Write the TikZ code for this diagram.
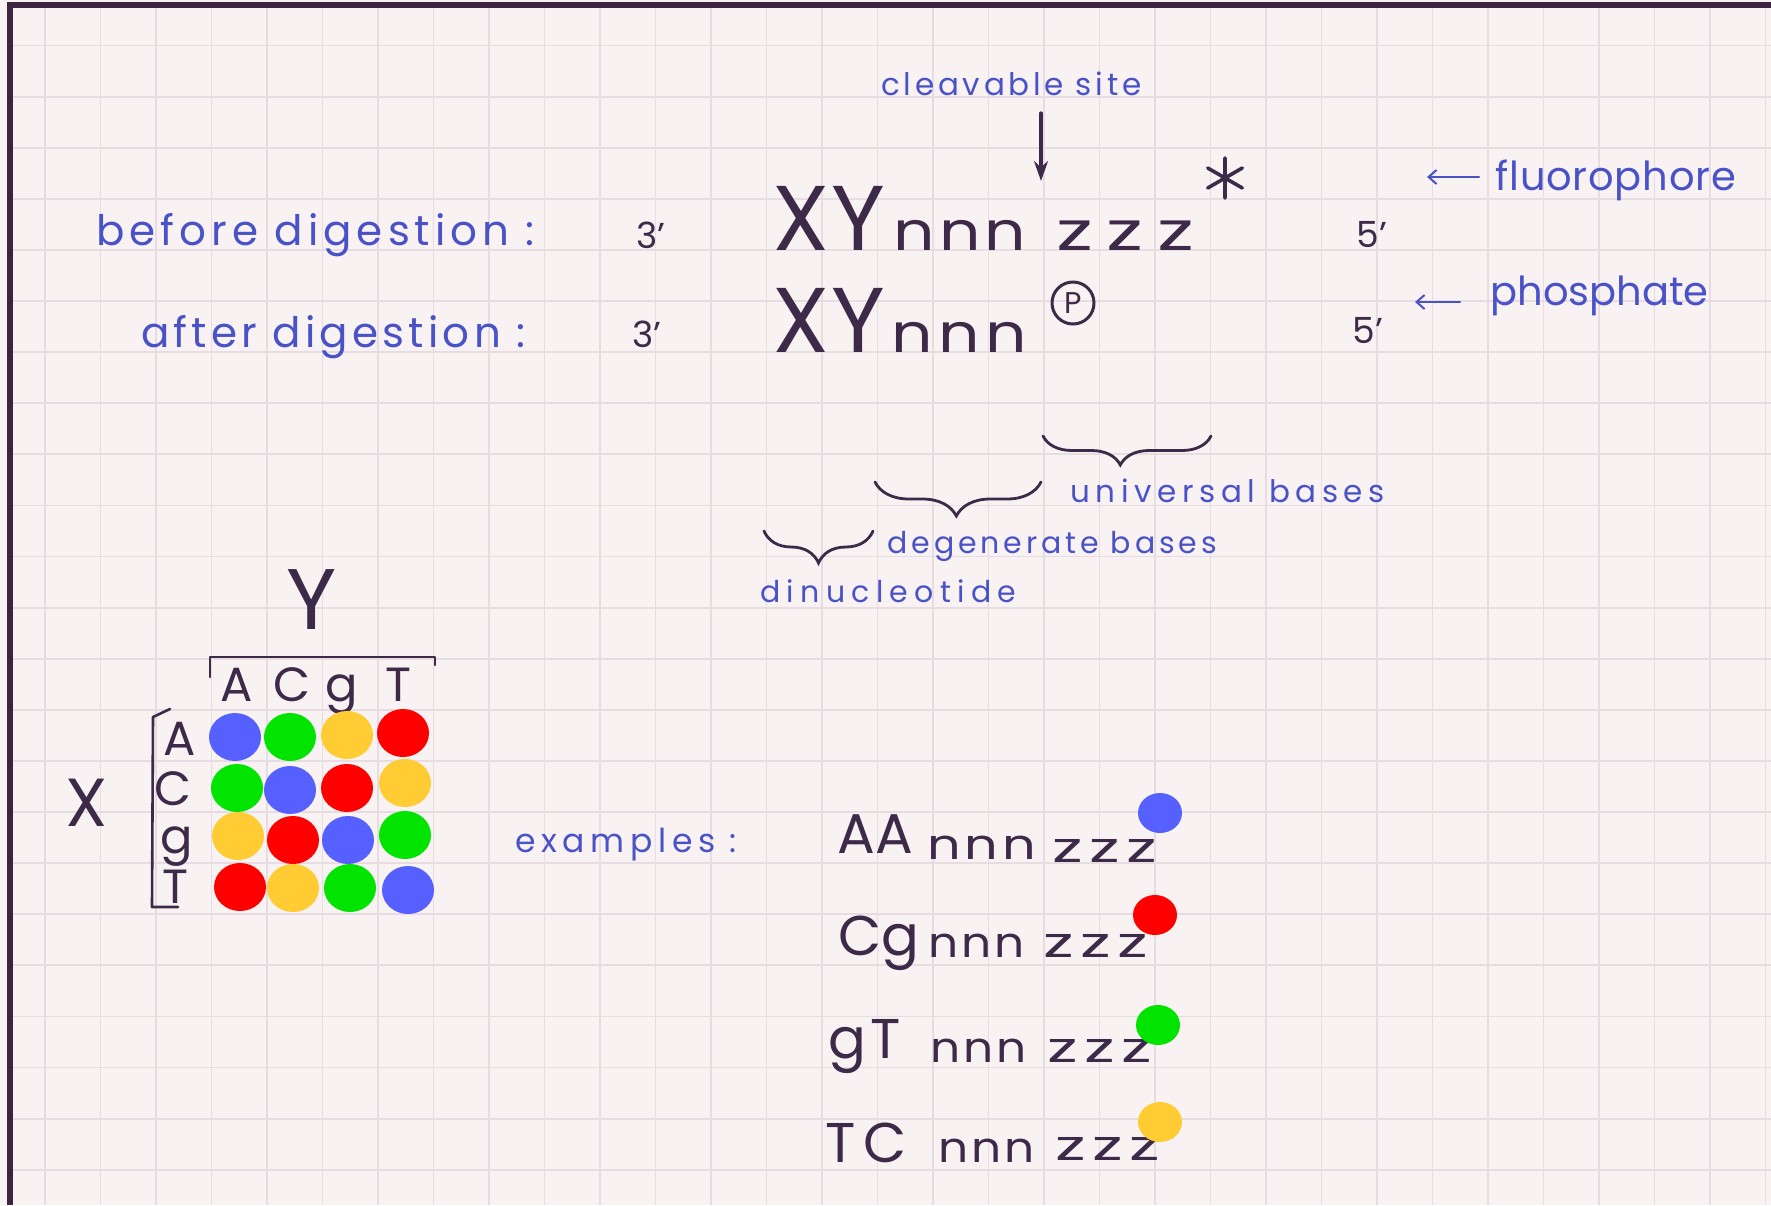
\documentclass[tikz,border=0pt]{standalone}
\usepackage{fontspec}
\setmainfont{Poppins}
\usetikzlibrary{arrows.meta,decorations.pathreplacing}
\definecolor{paper}{HTML}{F8F2F3}
\definecolor{gridc}{HTML}{E8DCE3}
\definecolor{framec}{HTML}{3D2542}
\definecolor{blueink}{HTML}{4A52C8}
\definecolor{darkink}{HTML}{3C2A48}
\definecolor{dotblue}{HTML}{5560FF}
\definecolor{dotgreen}{HTML}{00E400}
\definecolor{dotyellow}{HTML}{FFCC33}
\definecolor{dotred}{HTML}{FF0000}
\newcommand\HandFont[2]{\fontsize{#1pt}{#1pt}\selectfont\addfontfeature{LetterSpace=#2}}
\newcommand\WideFont[3]{\fontsize{#1pt}{#1pt}\selectfont\addfontfeature{LetterSpace=#2,FakeStretch=#3}}
\tikzset{
  bluetxt/.style={text=blueink, anchor=base west, inner sep=0pt},
  darktxt/.style={text=darkink, anchor=base west, inner sep=0pt},
  darkc/.style={text=darkink, anchor=base, inner sep=0pt},
  gridline/.style={draw=gridc, line width=0.9pt},
  inkline/.style={draw=darkink, line width=1.3pt, line cap=round, line join=round},
  bluearrow/.style={draw=blueink, line width=1pt, line cap=round, -{Straight Barb[length=4pt,width=7pt]}},
  bracestyle/.style={draw=darkink, line width=1.4pt, line cap=round, decorate, decoration={brace, mirror, amplitude=#1}},
  mdot/.style={fill=#1},
}
\begin{document}
\begin{tikzpicture}[x=0.5pt, y=-0.5pt]
\useasboundingbox (0,0) rectangle (1771,1205);
\fill[paper] (0,0) rectangle (1771,1205);
% graph paper
\foreach \j in {0,...,22} \draw[gridline] (12,{45.5+51.1*\j}) -- (1771,{45.5+51.1*\j});
\foreach \i in {0,...,31} \draw[gridline] ({45+55.5*\i},8) -- ({45+55.5*\i},1205);
% frame
\draw[draw=framec, line width=3pt] (10,1205) -- (10,5) -- (1771,5);

% ---- labels left
\node[bluetxt, font=\HandFont{21}{12}] (before) at (96,245) {before digestion :};
\node[bluetxt, font=\HandFont{21}{10}] (after) at (141,347) {after digestion :};

% ---- 3' and 5'
\node[darktxt, font=\HandFont{18}{0}] (b3) at (636,248) {3’};
\node[darktxt, font=\HandFont{18}{0}] (a3) at (632,347) {3’};
\node[darktxt, font=\HandFont{18}{0}] (b5) at (1356,247) {5’};
\node[darktxt, font=\HandFont{18}{0}] (a5) at (1352,343) {5’};

% ---- sequences
\node[darktxt, font=\HandFont{46}{2}] (bXY) at (772,250) {XY};
\node[darktxt, font=\WideFont{27}{8}{1.2}] (bn) at (893,250) {nnn};
\node[darktxt, font=\WideFont{27}{25}{1.5}] (bz) at (1056,250) {zzz};
\node[darktxt, font=\HandFont{46}{2}] (aXY) at (772,352) {XY};
\node[darktxt, font=\WideFont{27}{10}{1.2}] (an) at (891,352) {nnn};
\node[circle, draw=darkink, line width=1.5pt, minimum size=21pt, inner sep=0pt,
      text=darkink, font=\HandFont{15}{0}] (P) at (1073,303) {P};
% asterisk (fluorophore)
\coordinate (star) at (1225,178);
\draw[inkline, line width=1.8pt] ([shift={(0,-20)}]star) -- ([shift={(0,20)}]star)
  ([shift={(-17.3,-10)}]star) -- ([shift={(17.3,10)}]star)
  ([shift={(-17.3,10)}]star) -- ([shift={(17.3,-10)}]star);

% ---- cleavable site
\node[bluetxt, font=\HandFont{15.5}{12}] (cleave) at (881,95) {cleavable site};
\coordinate (cut) at (1041,181);
\draw[inkline, line width=1.6pt, -{Stealth[length=10pt,width=7pt]}, shorten <=9pt] (cleave.base -| cut) -- (cut);

% ---- fluorophore / phosphate
\node[bluetxt, font=\HandFont{20}{2}] (fluo) at (1495,190) {fluorophore};
\coordinate (fluotip) at (1427,177);
\draw[bluearrow, shorten <=8pt] (fluo.west |- fluotip) -- (fluotip);
\node[bluetxt, font=\HandFont{20}{0}] (phos) at (1490,305) {phosphate};
\coordinate (phostip) at (1415,302);
\draw[bluearrow, shorten <=15pt] (phos.west |- phostip) -- (phostip);

% ---- braces
\coordinate (u1) at (1043,436); \coordinate (u2) at (1211,436);
\draw[bracestyle=14.5pt, decoration={aspect=0.46}] (u1) -- (u2);
\coordinate (d1) at (875,482); \coordinate (d2) at (1041,482);
\draw[bracestyle=17pt, decoration={aspect=0.49}] (d1) -- (d2);
\coordinate (n1) at (764,531); \coordinate (n2) at (873,531);
\draw[bracestyle=16pt, decoration={aspect=0.5}] (n1) -- (n2);
\node[bluetxt, font=\HandFont{15.5}{18}] (univ) at (1070,502) {universal bases};
\node[bluetxt, font=\HandFont{15}{13}] (degen) at (887,553) {degenerate bases};
\node[bluetxt, font=\HandFont{15}{21}] (dinuc) at (760,602) {dinucleotide};

% ---- matrix
\node[text=darkink, inner sep=0pt, font=\HandFont{43}{0}] (Ylab) at (312,600) {Y};
\node[text=darkink, inner sep=0pt, font=\HandFont{34}{0}] (Xlab) at (87,803) {X};
\draw[inkline] (210,677) -- (210,657) -- (435,657) -- (435,665);
\draw[inkline] (170,709) -- (153,717) -- (152,907) -- (178,907);
\node[darkc, font=\HandFont{24}{0}] (cA) at (237,701) {A};
\node[darkc, font=\HandFont{24}{0}] (cC) at (292,701) {C};
\node[darkc, font=\HandFont{24}{0}] (cG) at (342,701) {g};
\node[darkc, font=\HandFont{24}{0}] (cT) at (398,701) {T};
\node[darkc, font=\HandFont{24}{0}] (rA) at (180,755) {A};
\node[darkc, font=\HandFont{24}{0}] (rC) at (173,805) {C};
\node[darkc, font=\HandFont{24}{0}] (rG) at (177,853) {g};
\node[darkc, font=\HandFont{24}{0}] (rT) at (175,903) {T};
% dots
\fill[mdot=dotblue]   (235,737) ellipse [x radius=13pt, y radius=12pt];
\fill[mdot=dotgreen]  (290,737) ellipse [x radius=13pt, y radius=12pt];
\fill[mdot=dotyellow] (347,735) ellipse [x radius=13pt, y radius=12pt];
\fill[mdot=dotred]    (403,733) ellipse [x radius=13pt, y radius=12pt];
\fill[mdot=dotgreen]  (237,788) ellipse [x radius=13pt, y radius=12pt];
\fill[mdot=dotblue]   (290,790) ellipse [x radius=13pt, y radius=12pt];
\fill[mdot=dotred]    (347,788) ellipse [x radius=13pt, y radius=12pt];
\fill[mdot=dotyellow] (405,783) ellipse [x radius=13pt, y radius=12pt];
\fill[mdot=dotyellow] (238,836) ellipse [x radius=13pt, y radius=12pt];
\fill[mdot=dotred]    (293,840) ellipse [x radius=13pt, y radius=12pt];
\fill[mdot=dotblue]   (348,840) ellipse [x radius=13pt, y radius=12pt];
\fill[mdot=dotgreen]  (405,835) ellipse [x radius=13pt, y radius=12pt];
\fill[mdot=dotred]    (240,887) ellipse [x radius=13pt, y radius=12pt];
\fill[mdot=dotyellow] (293,888) ellipse [x radius=13pt, y radius=12pt];
\fill[mdot=dotgreen]  (350,888) ellipse [x radius=13pt, y radius=12pt];
\fill[mdot=dotblue]   (408,890) ellipse [x radius=13pt, y radius=12pt];

% ---- examples
\node[bluetxt, font=\HandFont{16.5}{17}] (examples) at (515,852) {examples :};
\node[darktxt, font=\HandFont{28}{0}]  (e1c) at (837,853) {AA};
\node[darktxt, font=\WideFont{21}{9}{1.25}] (e1n) at (927,859) {nnn};
\node[darktxt, font=\WideFont{21}{15}{1.6}] (e1z) at (1052,862) {zzz};
\node[darktxt, font=\HandFont{28}{0}]  (e2c) at (838,955) {Cg};
\node[darktxt, font=\WideFont{21}{7}{1.12}] (e2n) at (928,957) {nnn};
\node[darktxt, font=\WideFont{21}{15}{1.6}] (e2z) at (1043,957) {zzz};
\node[darktxt, font=\HandFont{28}{8}]  (e3c) at (828,1058) {gT};
\node[darktxt, font=\WideFont{21}{7}{1.12}] (e3n) at (930,1062) {nnn};
\node[darktxt, font=\WideFont{21}{15}{1.6}] (e3z) at (1047,1062) {zzz};
\node[darktxt, font=\HandFont{28}{14}] (e4c) at (825,1162) {TC};
\node[darktxt, font=\WideFont{21}{7}{1.12}] (e4n) at (938,1162) {nnn};
\node[darktxt, font=\WideFont{21}{15}{1.6}] (e4z) at (1055,1160) {zzz};
\fill[mdot=dotblue]   (1160,813)  ellipse [x radius=11pt, y radius=10pt];
\fill[mdot=dotred]    (1155,915)  ellipse [x radius=11pt, y radius=10pt];
\fill[mdot=dotgreen]  (1158,1025) ellipse [x radius=11pt, y radius=10pt];
\fill[mdot=dotyellow] (1160,1122) ellipse [x radius=11pt, y radius=10pt];
\end{tikzpicture}
\end{document}
